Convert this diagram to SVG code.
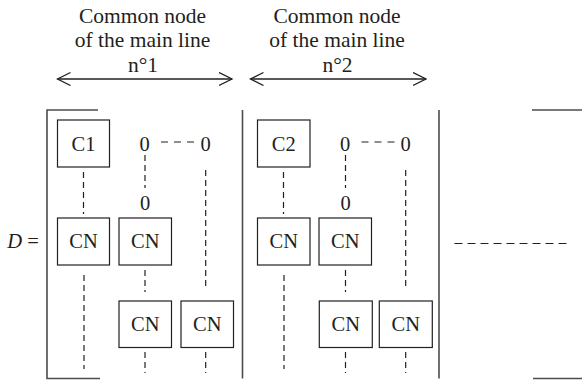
<svg xmlns="http://www.w3.org/2000/svg" width="582" height="383" viewBox="0 0 582 383">
<style>
text{font-family:"Liberation Serif","Times New Roman",serif;fill:#231f20;font-size:20.5px;text-anchor:middle}
.hd{font-size:21.5px}
.box{fill:#fff;stroke:#231f20;stroke-width:1.2}
.br{stroke:#4d4d4d;stroke-width:1.6;fill:none}
.dv{stroke:#231f20;stroke-width:1.2;stroke-dasharray:6 4;fill:none}
.dh{stroke:#231f20;stroke-width:1.2;stroke-dasharray:8 5;fill:none}
.dz{stroke:#231f20;stroke-width:1.2;stroke-dasharray:7 6;fill:none}
.ar{stroke:#231f20;stroke-width:1.3;fill:none}
</style>
<defs>
<marker id="head" markerUnits="userSpaceOnUse" markerWidth="16" markerHeight="16" refX="13" refY="7" orient="auto-start-reverse">
<path d="M0,0.5 L13,7 L0,13.5" fill="none" stroke="#231f20" stroke-width="1.3"/>
</marker>
</defs>

<g id="header1">
<text class="hd" x="142.5" y="22.5">Common node</text>
<text class="hd" x="142.5" y="46.5">of the main line</text>
<text class="hd" x="143" y="71.5">n°1</text>
</g>
<g id="header2">
<text class="hd" x="337" y="22.5">Common node</text>
<text class="hd" x="337" y="46.5">of the main line</text>
<text class="hd" x="337.5" y="71.5">n°2</text>
</g>

<g id="brackets">
<path class="br" d="M98,110 H47 V378.5 H100"/>
<path class="br" d="M242.5,110 V378.5"/>
<path class="br" d="M439,110 V378.5"/>
<path class="br" d="M532,110 H582"/>
<path class="br" d="M533,378.5 H582"/>
</g>

<g id="label-D">
<text x="23" y="247.5"><tspan font-style="italic">D</tspan> =</text>
</g>

<g id="connectors">
<line class="ar" x1="57.5" y1="79" x2="232" y2="79" marker-start="url(#head)" marker-end="url(#head)"/>
<line class="ar" x1="250.5" y1="79" x2="426" y2="79" marker-start="url(#head)" marker-end="url(#head)"/>
<line class="dv" x1="83.5" y1="172" x2="83.5" y2="214"/>
<line class="dv" x1="84" y1="275" x2="84" y2="369"/>
<line class="dv" x1="145" y1="155" x2="145" y2="188"/>
<line class="dz" x1="161" y1="142" x2="194" y2="142"/>
<line class="dv" x1="145" y1="270" x2="145" y2="292"/>
<line class="dv" x1="145" y1="352" x2="145" y2="373"/>
<line class="dv" x1="205.7" y1="170" x2="205.7" y2="286"/>
<line class="dv" x1="205.7" y1="352" x2="205.7" y2="373"/>
<line class="dv" x1="283.5" y1="172" x2="283.5" y2="214"/>
<line class="dv" x1="284" y1="275" x2="284" y2="369"/>
<line class="dv" x1="345.5" y1="155" x2="345.5" y2="188"/>
<line class="dz" x1="361.5" y1="142" x2="394.5" y2="142"/>
<line class="dv" x1="345.5" y1="270" x2="345.5" y2="292"/>
<line class="dv" x1="345.5" y1="352" x2="345.5" y2="373"/>
<line class="dv" x1="405.7" y1="170" x2="405.7" y2="286"/>
<line class="dv" x1="405.7" y1="352" x2="405.7" y2="373"/>
<line class="dh" x1="454.5" y1="243.5" x2="569" y2="243.5"/>
</g>

<g id="C1"><rect class="box" x="57.5" y="120" width="52" height="47"/><text x="83.5" y="150.5">C1</text></g>
<g id="zero1a"><text x="144.5" y="151">0</text></g>
<g id="zero1b"><text x="205.7" y="151">0</text></g>
<g id="zero1c"><text x="145" y="210">0</text></g>
<g id="CN1a"><rect class="box" x="57.5" y="218" width="52" height="47"/><text x="83.5" y="248">CN</text></g>
<g id="CN1b"><rect class="box" x="119" y="218" width="52.5" height="47"/><text x="145.2" y="248">CN</text></g>
<g id="CN1c"><rect class="box" x="119" y="301" width="52.5" height="46.5"/><text x="145.2" y="331">CN</text></g>
<g id="CN1d"><rect class="box" x="181" y="301" width="52.5" height="46.5"/><text x="207.2" y="331">CN</text></g>

<g id="C2"><rect class="box" x="257.5" y="120" width="52.5" height="47"/><text x="283.7" y="150.5">C2</text></g>
<g id="zero2a"><text x="345" y="151">0</text></g>
<g id="zero2b"><text x="405.7" y="151">0</text></g>
<g id="zero2c"><text x="345.5" y="210">0</text></g>
<g id="CN2a"><rect class="box" x="257.5" y="218" width="52.5" height="47"/><text x="283.7" y="248">CN</text></g>
<g id="CN2b"><rect class="box" x="319" y="218" width="52.5" height="47"/><text x="345.2" y="248">CN</text></g>
<g id="CN2c"><rect class="box" x="319.3" y="301" width="53" height="46.5"/><text x="345.8" y="331">CN</text></g>
<g id="CN2d"><rect class="box" x="379.3" y="301" width="53" height="46.5"/><text x="405.8" y="331">CN</text></g>
</svg>
